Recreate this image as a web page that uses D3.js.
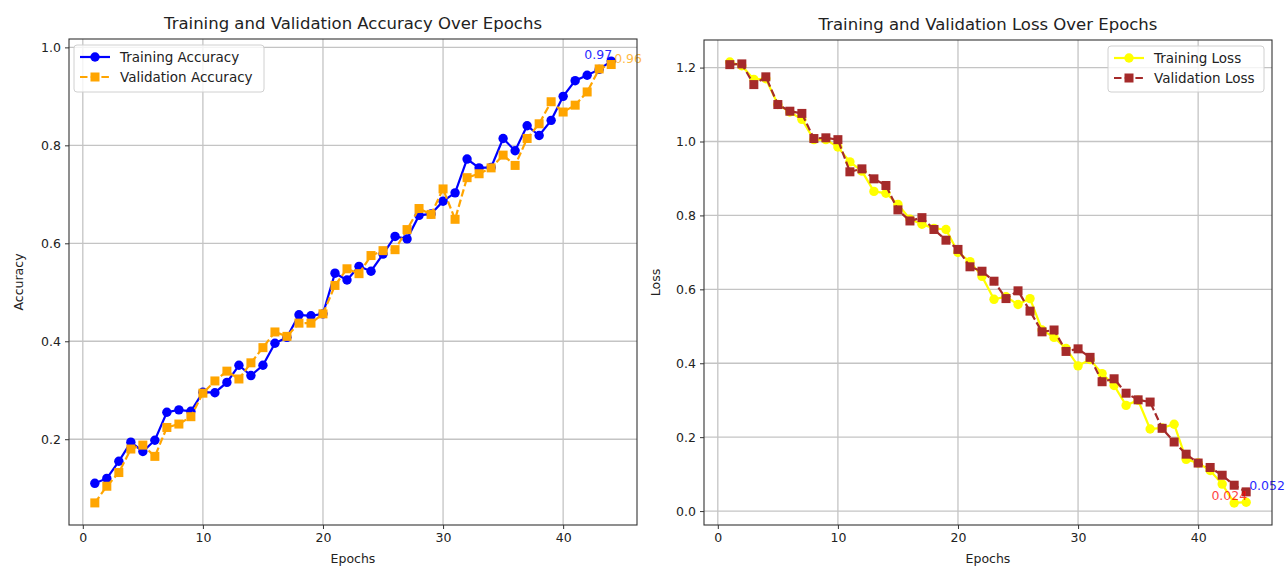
<!DOCTYPE html>
<html>
<head>
<meta charset="utf-8">
<script src="https://cdn.jsdelivr.net/npm/d3@7"></script>
<style>
  html, body { margin: 0; padding: 0; background: #fff; }
  svg { display: block; }
  text { font-family: "DejaVu Sans", sans-serif; fill: #222; }
</style>
</head>
<body>
<svg id="chart" width="1288" height="575"></svg>
<script>
// ---------------- data ----------------
const epochs = [1,2,3,4,5,6,7,8,9,10,11,12,13,14,15,16,17,18,19,20,21,22,
                23,24,25,26,27,28,29,30,31,32,33,34,35,36,37,38,39,40,41,42,43,44];

const trainAcc = [0.110,0.120,0.155,0.194,0.175,0.198,0.255,0.260,0.257,0.296,0.295,0.316,
                  0.351,0.330,0.351,0.396,0.408,0.454,0.452,0.456,0.539,0.525,0.553,0.543,
                  0.578,0.614,0.609,0.657,0.660,0.686,0.703,0.772,0.754,0.755,0.814,0.789,
                  0.840,0.820,0.851,0.900,0.932,0.943,0.955,0.972];

const valAcc = [0.070,0.104,0.132,0.180,0.188,0.165,0.224,0.231,0.246,0.294,0.319,0.339,
                0.323,0.356,0.387,0.419,0.410,0.437,0.437,0.456,0.514,0.548,0.538,0.575,
                0.585,0.587,0.628,0.671,0.659,0.711,0.649,0.734,0.742,0.754,0.780,0.759,
                0.814,0.844,0.889,0.868,0.882,0.909,0.956,0.965];

const trainLoss = [1.215,1.205,1.168,1.170,1.100,1.080,1.060,1.005,1.005,0.985,0.945,0.920,
                   0.865,0.860,0.830,0.790,0.776,0.765,0.762,0.700,0.675,0.635,0.573,0.580,
                   0.559,0.575,0.490,0.470,0.440,0.393,0.410,0.372,0.340,0.286,0.300,0.222,
                   0.225,0.235,0.140,0.130,0.110,0.073,0.022,0.024];

const valLoss = [1.208,1.210,1.154,1.175,1.100,1.082,1.076,1.008,1.010,1.005,0.918,0.926,
                 0.899,0.881,0.815,0.785,0.794,0.762,0.733,0.708,0.661,0.649,0.622,0.575,
                 0.596,0.541,0.485,0.490,0.432,0.439,0.416,0.350,0.358,0.319,0.301,0.295,
                 0.224,0.187,0.154,0.130,0.118,0.097,0.070,0.052];

const xTicks = [0,10,20,30,40];
const accTicks = [0.2,0.4,0.6,0.8,1.0];
const lossTicks = [0.0,0.2,0.4,0.6,0.8,1.0,1.2];

// ---------------- helpers ----------------
const svg = d3.select("#chart");

function padded(values) {
  const [a, b] = d3.extent(values);
  const m = (b - a) * 0.05;
  return [a - m, b + m];
}

function drawPanel(cfg) {
  const { left, right, top, bottom } = cfg.box;
  const g = svg.append("g");
  const x = d3.scaleLinear().domain(padded(epochs)).range([left, right]);
  const y = d3.scaleLinear().domain(padded(cfg.series.flatMap(s => s.values))).range([bottom, top]);

  const clipId = "clip" + cfg.id;
  svg.append("clipPath").attr("id", clipId)
    .append("rect").attr("x", left).attr("y", top).attr("width", right - left).attr("height", bottom - top);

  // grid
  g.append("g").selectAll("line").data(cfg.xTicks).join("line")
    .attr("x1", d => x(d)).attr("x2", d => x(d)).attr("y1", top).attr("y2", bottom)
    .attr("stroke", "#c4c4c4").attr("stroke-width", 1.3);
  g.append("g").selectAll("line").data(cfg.yTicks).join("line")
    .attr("y1", d => y(d)).attr("y2", d => y(d)).attr("x1", left).attr("x2", right)
    .attr("stroke", "#c4c4c4").attr("stroke-width", 1.3);

  // axes
  const xAxis = d3.axisBottom(x).tickValues(cfg.xTicks).tickSize(4).tickPadding(4).tickFormat(d3.format("d"));
  const yAxis = d3.axisLeft(y).tickValues(cfg.yTicks).tickSize(4).tickPadding(4).tickFormat(d3.format(".1f"));
  const gx = g.append("g").attr("transform", `translate(0,${bottom})`).call(xAxis);
  const gy = g.append("g").attr("transform", `translate(${left},0)`).call(yAxis);
  [gx, gy].forEach(a => {
    a.select(".domain").remove();
    a.selectAll(".tick line").attr("stroke", "#333").attr("stroke-width", 1);
    a.selectAll(".tick text").attr("font-size", 12.5).attr("fill", "#333")
      .style("font-family", "'DejaVu Sans', sans-serif");
  });

  // series
  const plot = g.append("g").attr("clip-path", `url(#${clipId})`);
  cfg.series.forEach(s => {
    const line = d3.line().x((d, i) => x(epochs[i])).y(d => y(d));
    plot.append("path").datum(s.values)
      .attr("d", line).attr("fill", "none").attr("stroke", s.color).attr("stroke-width", 2.2)
      .attr("stroke-dasharray", s.dashed ? "7.5,3.2" : null);
    const m = plot.append("g");
    if (s.marker === "circle") {
      m.selectAll("circle").data(s.values).join("circle")
        .attr("cx", (d, i) => x(epochs[i])).attr("cy", d => y(d)).attr("r", 4.7)
        .attr("fill", s.color);
    } else {
      m.selectAll("rect").data(s.values).join("rect")
        .attr("x", (d, i) => x(epochs[i]) - 4.5).attr("y", d => y(d) - 4.5)
        .attr("width", 9).attr("height", 9).attr("fill", s.color);
    }
  });

  // annotations at last epoch
  cfg.series.forEach(s => {
    const i = epochs.length - 1;
    g.append("text")
      .attr("x", x(epochs[i]) + (s.anchor === "end" ? 1 : 3))
      .attr("y", y(s.values[i]) - 2)
      .attr("text-anchor", s.anchor)
      .attr("font-size", 12.5)
      .style("fill", s.labelColor)
      .attr("opacity", s.labelOpacity)
      .text(s.label);
  });

  // spines
  g.append("rect").attr("x", left).attr("y", top).attr("width", right - left).attr("height", bottom - top)
    .attr("fill", "none").attr("stroke", "#333").attr("stroke-width", 1.1);

  // title & labels
  g.append("text").attr("x", (left + right) / 2).attr("y", top - 10).attr("text-anchor", "middle")
    .attr("font-size", 16.5).text(cfg.title);
  g.append("text").attr("x", (left + right) / 2).attr("y", bottom + 38).attr("text-anchor", "middle")
    .attr("font-size", 12.5).text("Epochs");
  g.append("text").attr("transform", `translate(${cfg.yLabelX},${(top + bottom) / 2}) rotate(-90)`)
    .attr("text-anchor", "middle").attr("font-size", 12.5).text(cfg.yLabel);

  // legend
  const L = cfg.legend;
  const lg = g.append("g");
  lg.append("rect").attr("x", L.x).attr("y", L.y).attr("width", L.w).attr("height", L.h)
    .attr("rx", 3).attr("fill", "#fff").attr("fill-opacity", 0.8)
    .attr("stroke", "#d0d0d0").attr("stroke-width", 1);
  cfg.series.forEach((s, k) => {
    const cy = L.y + 12 + k * 20;
    const hx0 = L.x + 6, hx1 = L.x + 36;
    lg.append("line").attr("x1", hx0).attr("x2", hx1).attr("y1", cy).attr("y2", cy)
      .attr("stroke", s.color).attr("stroke-width", 2.2)
      .attr("stroke-dasharray", s.dashed ? "7.5,3.2" : null);
    if (s.marker === "circle") {
      lg.append("circle").attr("cx", (hx0 + hx1) / 2).attr("cy", cy).attr("r", 4.7).attr("fill", s.color);
    } else {
      lg.append("rect").attr("x", (hx0 + hx1) / 2 - 4.5).attr("y", cy - 4.5).attr("width", 9)
        .attr("height", 9).attr("fill", s.color);
    }
    lg.append("text").attr("x", L.x + 46).attr("y", cy).attr("dy", "0.35em")
      .attr("font-size", 13.5).attr("fill", "#222").text(s.name);
  });
}

drawPanel({
  id: "acc",
  box: { left: 69, right: 637, top: 39, bottom: 525 },
  title: "Training and Validation Accuracy Over Epochs",
  yLabel: "Accuracy", yLabelX: 23,
  xTicks, yTicks: accTicks,
  legend: { x: 74, y: 45, w: 190, h: 47 },
  series: [
    { name: "Training Accuracy", values: trainAcc, color: "blue", marker: "circle", dashed: false,
      label: "0.97", labelColor: "blue", labelOpacity: 0.85, anchor: "end" },
    { name: "Validation Accuracy", values: valAcc, color: "orange", marker: "square", dashed: true,
      label: "0.96", labelColor: "orange", labelOpacity: 0.75, anchor: "start" }
  ]
});

drawPanel({
  id: "loss",
  box: { left: 704, right: 1272, top: 40, bottom: 525 },
  title: "Training and Validation Loss Over Epochs",
  yLabel: "Loss", yLabelX: 660,
  xTicks, yTicks: lossTicks,
  legend: { x: 1108, y: 46, w: 156, h: 46 },
  series: [
    { name: "Training Loss", values: trainLoss, color: "yellow", marker: "circle", dashed: false,
      label: "0.024", labelColor: "red", labelOpacity: 0.75, anchor: "end" },
    { name: "Validation Loss", values: valLoss, color: "brown", marker: "square", dashed: true,
      label: "0.052", labelColor: "blue", labelOpacity: 0.85, anchor: "start" }
  ]
});
</script>
</body>
</html>
